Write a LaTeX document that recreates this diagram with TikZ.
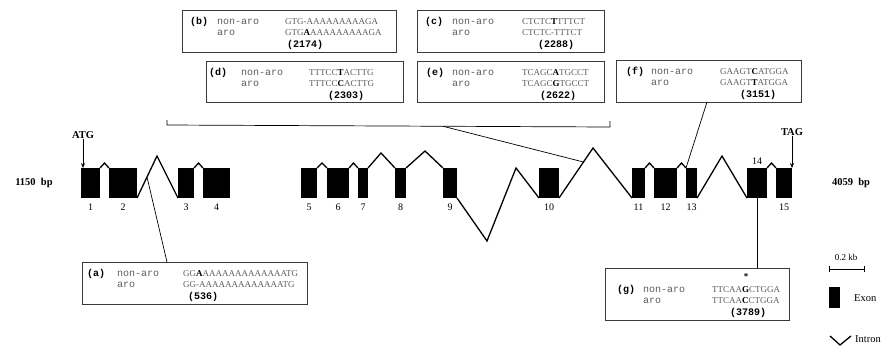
\documentclass[tikz,border=0pt]{standalone}
\usepackage{fontspec}
\setmainfont{Liberation Serif}
\setmonofont{Liberation Mono}
\usetikzlibrary{calc,positioning,arrows.meta}
\providecommand{\Ink}{000000}
\providecommand{\Frame}{3A3A3A}
\providecommand{\Soft}{5C5C5C}
\newcommand{\Unit}{1pt}
\newcommand{\Wire}{1.3pt}
\newcommand{\Row}{11.5}
\newcommand{\NameDx}{35}
\definecolor{ink}{HTML}{\Ink}
\definecolor{frame}{HTML}{\Frame}
\definecolor{soft}{HTML}{\Soft}

% the base that differs between the two strains
\newcommand{\Hit}[1]{\textcolor{ink}{\textbf{#1}}}

% #1 box, #2 tag, #3 tag dx, #4 sequence dx, #5 non-aro, #6 aro,
% #7 position dx, #8 position, #9 baseline of first row
\newcommand{\SeqRows}[9]{%
  \node[tagtxt]  (#1-tag) at ([shift={(#3,#9)}]#1.north west) {#2};
  \node[nametxt] (#1-non) at ([shift={(\NameDx,#9)}]#1.north west) {non-aro};
  \node[nametxt] (#1-aro) at ([shift={(\NameDx,#9+\Row)}]#1.north west) {aro};
  \node[seqtxt]  (#1-s1)  at ([shift={(#4,#9)}]#1.north west) {#5};
  \node[seqtxt]  (#1-s2)  at ([shift={(#4,#9+\Row)}]#1.north west) {#6};
  \node[numtxt]  (#1-pos) at ([shift={(#7,#9+2*\Row)}]#1.north west) {#8};
}

\begin{document}
\begin{tikzpicture}[x=\Unit,y=-\Unit, line join=miter,
  exon/.style={fill=ink, inner sep=0pt, outer sep=0pt, minimum height=30},
  wire/.style={draw=ink, line width=\Wire},
  callout/.style={draw=ink, line width=0.7pt},
  exnum/.style={inner sep=0pt, font=\fontsize{10}{12}\selectfont},
  endlbl/.style={inner sep=0pt, font=\bfseries\fontsize{10.5}{12}\selectfont},
  seqbox/.style={draw=frame, line width=0.9pt, anchor=north west, inner sep=0pt},
  tagtxt/.style={anchor=base west, inner sep=0pt, font=\ttfamily\bfseries\fontsize{10}{12}\selectfont},
  nametxt/.style={anchor=base west, inner sep=0pt, text=soft, font=\ttfamily\fontsize{10}{12}\selectfont},
  seqtxt/.style={anchor=base west, inner sep=0pt, text=soft, font=\fontsize{9}{11}\selectfont},
  numtxt/.style={anchor=base west, inner sep=0pt, font=\ttfamily\bfseries\fontsize{10}{12}\selectfont},
  keytxt/.style={inner sep=0pt, font=\fontsize{10.5}{12}\selectfont}]

  \useasboundingbox (0,0) rectangle (886,346);

  % ---- exons, left and right edge of each ---------------------------------
  \foreach \n/\l/\r in {1/81/100, 2/109/137, 3/178/194, 4/203/230,
      5/301/317, 6/327/349, 7/358/368, 8/395/406, 9/443/457, 10/539/559,
      11/632/645, 12/654/677, 13/686/697, 14/747/767, 15/776/792} {
    \pgfmathsetmacro\w{\r-\l}
    \pgfmathsetmacro\c{(\l+\r)/2}
    \node[exon, minimum width=\w pt] (e\n) at (\c,183) {};
    \ifnum\n=14
      \node[exnum, above=3.5pt of e\n] (n\n) {\n};
    \else
      \node[exnum, below=6pt of e\n] (n\n) {\n};
    \fi
  }

  % ---- short introns, a small hat over the gap ----------------------------
  \foreach \a/\b in {1/2, 3/4, 5/6, 6/7, 11/12, 12/13, 14/15} {
    \draw[wire] (e\a.north east) -- ($(e\a.north east)!0.5!(e\b.north west)+(0,-5)$) -- (e\b.north west);
  }

  % ---- long introns -------------------------------------------------------
  \coordinate (p23) at (157,156);
  \coordinate (p78) at (381,153);
  \coordinate (p89) at (425,151);
  \coordinate (v910) at (487,241);
  \coordinate (p910) at (516,168);
  \coordinate (p1011) at (593,148);
  \coordinate (p1314) at (722,156);
  \draw[wire] (e2.south east) -- (p23) -- (e3.south west);
  \draw[wire] (e7.north east) -- (p78) -- (e8.north west);
  \draw[wire] (e8.north east) -- (p89) -- (e9.north west);
  \draw[wire] (e9.south east) -- (v910) -- (p910) -- (e10.south west);
  \draw[wire] (e10.south east) -- (p1011) -- (e11.south west);
  \draw[wire] (e13.south east) -- (p1314) -- (e14.south west);

  % ---- start and stop codons, gene ends -----------------------------------
  \node[endlbl] (atg) at (83,135) {ATG};
  \node[endlbl] (tag) at (792,132) {TAG};
  \draw[line width=0.8pt, -{Stealth[length=5pt,width=4pt]}] (atg.south) -- (atg.south |- e1.north);
  \draw[line width=0.8pt, -{Stealth[length=5pt,width=4pt]}] (tag.south) -- (tag.south |- e15.north);
  \node[endlbl] (left) at (34,183) {1150\ \ bp};
  \node[endlbl] (right) at (851,183) {4059\ \ bp};

  % ---- sequence boxes -----------------------------------------------------
  \node[seqbox, minimum width=214, minimum height=42] (bbox) at (182,10) {};
  \node[seqbox, minimum width=187, minimum height=42] (cbox) at (417,10) {};
  \node[seqbox, minimum width=197, minimum height=41] (dbox) at (206,61) {};
  \node[seqbox, minimum width=187, minimum height=41] (ebox) at (417,61) {};
  \node[seqbox, minimum width=185, minimum height=42] (fbox) at (616,60) {};
  \node[seqbox, minimum width=225, minimum height=42] (abox) at (82,262) {};
  \node[seqbox, minimum width=184, minimum height=52] (gbox) at (605,268) {};

  \SeqRows{abox}{(a)}{5}{101}{GG\Hit{A}AAAAAAAAAAAAATG}{GG-AAAAAAAAAAAAATG}{106}{(536)}{14}
  \SeqRows{bbox}{(b)}{8}{103}{GTG-AAAAAAAAAGA}{GTG\Hit{A}AAAAAAAAAGA}{105}{(2174)}{14}
  \SeqRows{cbox}{(c)}{8}{105}{CTCTC\Hit{T}TTTCT}{CTCTC-TTTCT}{121}{(2288)}{14}
  \SeqRows{dbox}{(d)}{3}{103}{TTTCC\Hit{T}ACTTG}{TTTCC\Hit{C}ACTTG}{122}{(2303)}{14}
  \SeqRows{ebox}{(e)}{9}{105}{TCAGC\Hit{A}TGCCT}{TCAGC\Hit{G}TGCCT}{123}{(2622)}{14}
  \SeqRows{fbox}{(f)}{10}{104}{GAAGT\Hit{C}ATGGA}{GAAGT\Hit{T}ATGGA}{124}{(3151)}{14}
  \renewcommand{\NameDx}{38}
  \SeqRows{gbox}{(g)}{12}{107}{TTCAA\Hit{G}CTGGA}{TTCAA\Hit{C}CTGGA}{125}{(3789)}{24}
  \node[inner sep=0pt, font=\bfseries\fontsize{9}{11}\selectfont] (gstar) at (746,277) {*};

  % ---- callouts from the boxes to the gene --------------------------------
  \coordinate (ca) at ($(e2.south east)!0.5!(p23)$);
  \coordinate (ta) at (167,262);
  \draw[callout] (ca) -- (ta);
  \coordinate (bl) at (167,125);
  \coordinate (br) at (610,127);
  \coordinate (bm) at ($(bl)!0.623!(br)$);
  \draw[callout] ([yshift=5pt]bl) -- (bl) -- (br) -- ([yshift=6pt]br);
  \coordinate (cj) at ($(e10.south east)!0.72!(p1011)$);
  \draw[callout] (bm) -- (cj);
  \coordinate (tf) at (707,102);
  \draw[callout] (tf) -- (e13.north west);
  \draw[callout] (e14.south) -- (e14.south |- gbox.north);

  % ---- key ----------------------------------------------------------------
  \node[inner sep=0pt, font=\fontsize{9}{11}\selectfont] (kb) at (846,257) {0.2 kb};
  \coordinate (sl) at (829,269);
  \coordinate (sr) at (864,269);
  \draw[line width=0.9pt] (sl) -- (sr);
  \draw[line width=0.9pt] ([yshift=3pt]sl) -- ([yshift=-3pt]sl);
  \draw[line width=0.9pt] ([yshift=3pt]sr) -- ([yshift=-3pt]sr);
  \node[exon, minimum width=11, minimum height=21] (keyexon) at (834.5,297.5) {};
  \node[keytxt, anchor=west] (keyexonlbl) at (854,298) {Exon};
  \draw[wire] (830,336) -- (840,345) -- (851,336);
  \node[keytxt, anchor=west] (keyintronlbl) at (855,339) {Intron};

\end{tikzpicture}
\end{document}
